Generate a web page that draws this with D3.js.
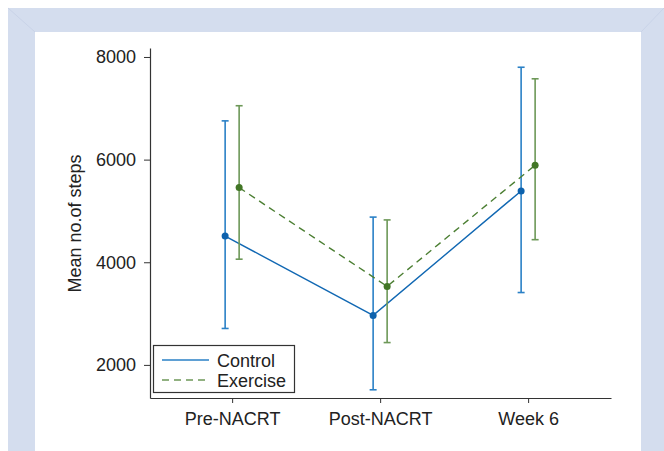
<!DOCTYPE html>
<html><head><meta charset="utf-8">
<script src="https://cdn.jsdelivr.net/npm/d3@7"></script>
<style>body{margin:0;background:#fff}svg{display:block;font-family:"Liberation Sans",Arial,sans-serif}</style>
</head><body>
<script>
const categories = ["Pre-NACRT", "Post-NACRT", "Week 6"];
const seriesNames = ["Control", "Exercise"];
const controlMean = [4510, 2965, 5390];
const controlLow  = [2710, 1515, 3410];
const controlHigh = [6755, 4880, 7800];
const exerciseMean = [5455, 3530, 5890];
const exerciseLow  = [4060, 2435, 4440];
const exerciseHigh = [7050, 4825, 7575];
const yTicks = [2000, 4000, 6000, 8000];

const W = 664, H = 451;
const svg = d3.select("body").append("svg").attr("width", W).attr("height", H);

// frame
const frame = "#d4ddee";
svg.append("path").attr("fill", frame).attr("fill-rule", "evenodd")
  .attr("d", `M8,8H664V451H8Z M35,32H641V451H35Z`);
svg.append("g").attr("stroke", "#c9d3e8").attr("stroke-width", 1)
  .selectAll("line").data([[8,8,35,32],[664,8,641,32]]).join("line")
  .attr("x1", d=>d[0]).attr("y1", d=>d[1]).attr("x2", d=>d[2]).attr("y2", d=>d[3]);

const x = d3.scaleLinear().domain([0.445, 3.56]).range([150, 611]);
const y = d3.scaleLinear().domain([1355, 8175]).range([398, 48]);

const axisColor = "#333";
const FS = 18;
// y axis
const ya = svg.append("g").attr("transform", "translate(150,0)")
  .call(d3.axisLeft(y).tickValues(yTicks).tickSizeInner(6).tickSizeOuter(0).tickPadding(8).tickFormat(d3.format("d")));
ya.select(".domain").attr("stroke", axisColor).attr("stroke-width", 1.2);
ya.selectAll(".tick line").attr("stroke", axisColor);
ya.selectAll("text").attr("font-size", FS).attr("fill", "#222").attr("font-family", "Liberation Sans, Arial, sans-serif");

// x axis
const xa = svg.append("g").attr("transform", "translate(0,398)")
  .call(d3.axisBottom(x).tickValues([1,2,3]).tickSizeInner(5).tickSizeOuter(0).tickPadding(9).tickFormat((d,i)=>categories[i]));
xa.select(".domain").attr("stroke", axisColor).attr("stroke-width", 1.2);
xa.selectAll(".tick line").attr("stroke", axisColor);
xa.selectAll("text").attr("font-size", FS).attr("fill", "#222").attr("font-family", "Liberation Sans, Arial, sans-serif");

svg.append("text").attr("transform", "translate(81,223.5) rotate(-90)")
  .attr("text-anchor", "middle").attr("font-size", FS).attr("fill", "#222").text("Mean no.of steps");

const series = [
  {name: seriesNames[0], mean: controlMean, low: controlLow, high: controlHigh, off: -7,
   line: "#1168b3", bar: "#2a80c6", dot: "#0d62ad", dash: null},
  {name: seriesNames[1], mean: exerciseMean, low: exerciseLow, high: exerciseHigh, off: 7,
   line: "#4c7f33", bar: "#6d9858", dot: "#427626", dash: "7,5"}
];

series.forEach(s => {
  const pts = s.mean.map((m,i)=>({cx: x(i+1)+s.off, m, lo: s.low[i], hi: s.high[i]}));
  const g = svg.append("g");
  g.selectAll("line.eb").data(pts).join("line").attr("class","eb")
    .attr("x1", d=>d.cx).attr("x2", d=>d.cx).attr("y1", d=>y(d.lo)).attr("y2", d=>y(d.hi))
    .attr("stroke", s.bar).attr("stroke-width", 1.6);
  ["lo","hi"].forEach(k => {
    g.selectAll("line.cap"+k).data(pts).join("line").attr("class","cap"+k)
      .attr("x1", d=>d.cx-3.5).attr("x2", d=>d.cx+3.5).attr("y1", d=>y(d[k])).attr("y2", d=>y(d[k]))
      .attr("stroke", s.bar).attr("stroke-width", 1.6);
  });
  g.append("path").datum(pts).attr("fill","none").attr("stroke", s.line).attr("stroke-width", 1.4)
    .attr("stroke-dasharray", s.dash)
    .attr("d", d3.line().x(d=>d.cx).y(d=>y(d.m)));
  g.selectAll("circle").data(pts).join("circle").attr("cx", d=>d.cx).attr("cy", d=>y(d.m))
    .attr("r", 3.5).attr("fill", s.dot);
});

// legend
const lg = svg.append("g");
lg.append("rect").attr("x", 153.5).attr("y", 345.5).attr("width", 141).attr("height", 47)
  .attr("fill", "#fff").attr("stroke", "#333").attr("stroke-width", 1.2);
series.forEach((s,i) => {
  const yy = 360 + i*20;
  lg.append("line").attr("x1", 162).attr("x2", 209).attr("y1", yy).attr("y2", yy)
    .attr("stroke", s.bar).attr("stroke-width", 1.6).attr("stroke-dasharray", s.dash);
  lg.append("text").attr("x", 217).attr("y", yy+6.5).attr("font-size", FS).attr("fill", "#222").text(s.name);
});
</script>
</body></html>
